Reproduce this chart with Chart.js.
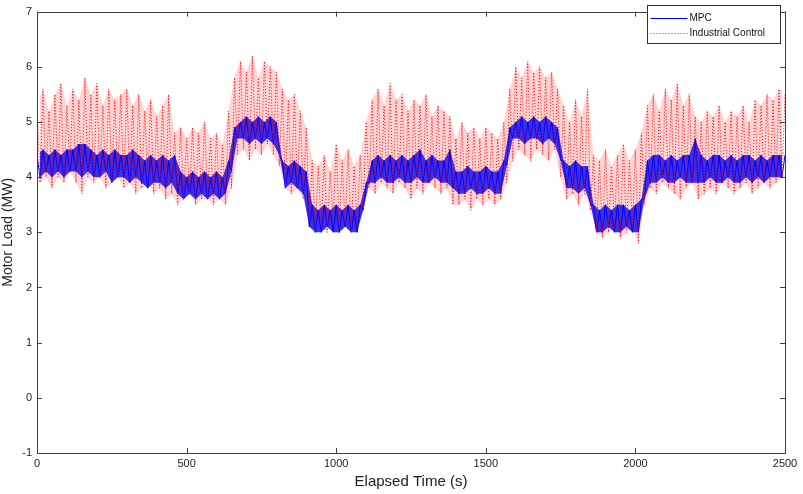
<!DOCTYPE html>
<html>
<head>
<meta charset="utf-8">
<script src="https://cdn.jsdelivr.net/npm/chart.js@4.4.1/dist/chart.umd.min.js"></script>
<style>
  html, body { margin: 0; padding: 0; background: #fff; }
  #wrap { width: 803px; height: 494px; }
</style>
</head>
<body>
<div id="wrap"><canvas id="motorChart" width="803" height="494"></canvas></div>
<script>
// Sample spacing: peaks at every 20 s, troughs half way between
const STEP = 20;

const xTicks = [0, 500, 1000, 1500, 2000, 2500];
const yTicks = [-1, 0, 1, 2, 3, 4, 5, 6, 7];

// Industrial Control (red dotted) - peaks read at t = 0, 20, ... 2500
const redPeaks = [
  5.3, 5.6, 5.2, 5.5, 5.7, 5.3, 5.6, 5.4, 5.8, 5.5, 5.7, 5.3, 5.6, 5.4, 5.5, 5.6, 5.3, 5.5, 5.2, 5.4, 5.1, 5.3, 5.5,
  4.8, 4.9, 4.7, 4.9, 4.8, 5.0, 4.7, 4.8, 4.6, 5.2,
  5.8, 6.1, 5.9, 6.2, 5.8, 6.1, 6.0, 5.9,
  5.6, 5.4, 5.5, 5.2, 4.9,
  4.3, 4.2, 4.4, 4.1, 4.6, 4.3, 4.5, 4.2, 4.4, 5.0,
  5.4, 5.6, 5.3, 5.7, 5.4, 5.5, 5.2, 5.4, 5.3, 5.5, 5.1, 5.3, 5.2, 5.1,
  4.7, 5.0, 4.8, 4.9, 4.7, 4.9, 4.8, 4.7, 5.0,
  5.6, 6.0, 5.8, 6.1, 5.9, 6.0, 5.8, 5.9, 5.6,
  5.3, 5.0, 5.4, 5.1, 5.6,
  4.4, 4.3, 4.5, 4.2, 4.4, 4.6, 4.3, 4.5, 4.8,
  5.3, 5.5, 5.2, 5.6, 5.4, 5.7, 5.3, 5.5, 5.1,
  5.0, 5.2, 5.1, 5.3, 5.0, 5.2, 5.1, 5.3, 5.0, 5.4, 5.3, 5.5, 5.4, 5.6, 5.5
];
// Industrial Control troughs read at t = 10, 30, ... 2490
const redTroughs = [
  3.9, 4.0, 3.8, 4.0, 3.9, 4.1, 3.9, 3.7, 4.0, 3.9, 4.0, 3.8, 3.9, 4.0, 3.8, 3.9, 3.7, 3.8, 3.9, 3.7, 3.8, 3.6, 3.7,
  3.5, 3.6, 3.7, 3.5, 3.6, 3.6, 3.5, 3.6, 3.5, 3.8,
  4.4, 4.5, 4.3, 4.5, 4.4, 4.6, 4.4, 4.2,
  3.8, 3.7, 3.8, 3.6,
  3.2, 3.0, 3.1, 3.0, 3.2, 3.0, 3.1, 3.0, 3.1, 3.4,
  3.8, 3.7, 3.9, 3.8, 3.7, 3.9, 3.8, 3.6, 3.8, 3.7, 3.9, 3.8, 3.7, 3.8, 3.5,
  3.5, 3.6, 3.4, 3.6, 3.5, 3.6, 3.5, 3.6, 3.9,
  4.3, 4.5, 4.4, 4.3, 4.5, 4.4, 4.3, 4.5, 4.0,
  3.6, 3.7, 3.5, 3.7, 3.4,
  3.0, 2.9, 3.0, 3.1, 2.9, 3.0, 3.1, 2.8, 3.5,
  3.8, 3.7, 3.9, 3.8, 3.7, 3.6, 3.8, 3.9, 3.6, 3.7, 3.8, 3.7, 3.9, 3.8, 3.7, 3.8, 3.9, 3.7, 3.8, 3.9, 3.8, 3.9, 4.0
];

// MPC (blue solid) - peaks at t = 0, 20, ... 2500
const mpcPeaks = [
  4.4, 4.5, 4.4, 4.5, 4.4, 4.5, 4.5, 4.6, 4.6, 4.5, 4.4, 4.5, 4.4, 4.5, 4.4, 4.4, 4.5, 4.4, 4.3, 4.4, 4.3, 4.4, 4.3,
  4.4, 4.1, 4.0, 4.1, 4.0, 4.1, 4.0, 4.1, 4.0, 4.3,
  4.9, 5.0, 5.1, 5.0, 5.1, 5.0, 5.1, 5.0,
  4.3, 4.2, 4.3, 4.2, 4.1,
  3.5, 3.4, 3.5, 3.4, 3.5, 3.4, 3.5, 3.4, 3.5, 3.9,
  4.3, 4.4, 4.3, 4.4, 4.3, 4.4, 4.3, 4.4, 4.5, 4.3, 4.4, 4.3, 4.3, 4.5,
  4.1, 4.1, 4.2, 4.1, 4.1, 4.2, 4.1, 4.1, 4.3,
  4.9, 5.0, 5.1, 5.0, 5.1, 5.0, 5.1, 5.0, 4.9,
  4.3, 4.2, 4.3, 4.2, 4.2,
  3.5, 3.4, 3.5, 3.4, 3.5, 3.5, 3.4, 3.5, 3.6,
  4.3, 4.4, 4.4, 4.3, 4.4, 4.3, 4.4, 4.4, 4.7,
  4.4, 4.3, 4.4, 4.4, 4.3, 4.4, 4.3, 4.4, 4.4, 4.3, 4.4, 4.3, 4.4, 4.4, 4.4
];
// MPC troughs at t = 10, 30, ... 2490
const mpcTroughs = [
  4.0, 4.1, 4.0, 4.1, 4.0, 4.1, 4.1, 4.0, 4.1, 4.0, 4.0, 4.1, 3.9, 4.0, 4.0, 3.9, 4.0, 3.9, 3.8, 3.9, 3.9, 3.8, 3.9,
  3.7, 3.6, 3.7, 3.6, 3.7, 3.6, 3.7, 3.6, 3.7, 4.1,
  4.7, 4.7, 4.6, 4.7, 4.6, 4.7, 4.6, 4.4,
  3.8, 3.9, 3.8, 3.7,
  3.1, 3.0, 3.0, 3.1, 3.0, 3.0, 3.1, 3.0, 3.0, 3.4,
  3.9, 3.9, 4.0, 3.9, 3.9, 4.0, 3.9, 3.9, 4.0, 3.9, 3.9, 4.0, 3.9, 3.9, 3.8,
  3.7, 3.7, 3.8, 3.7, 3.7, 3.8, 3.7, 3.7, 4.2,
  4.7, 4.7, 4.6, 4.7, 4.7, 4.6, 4.7, 4.6, 4.3,
  3.8, 3.8, 3.7, 3.8, 3.5,
  3.0, 3.0, 3.1, 3.0, 3.0, 3.1, 3.0, 3.0, 3.6,
  3.9, 3.9, 4.0, 3.9, 3.9, 4.0, 3.9, 3.9, 3.9, 3.9, 4.0, 3.9, 3.9, 4.0, 3.9, 3.9, 4.0, 3.9, 4.0, 3.9, 4.0, 4.0, 4.0
];

const peakPoints = arr => arr.map((v, i) => ({ x: i * STEP, y: v }));
const troughPoints = arr => arr.map((v, i) => ({ x: i * STEP + STEP / 2, y: v }));

// Merge peaks and troughs into one time-ordered list of points
function buildSeries(peaks, troughs) {
  const pts = [];
  peaks.forEach((v, i) => {
    pts.push({ x: i * STEP, y: v });
    if (i < troughs.length) pts.push({ x: i * STEP + STEP / 2, y: troughs[i] });
  });
  return pts;
}

const FONT = "'Liberation Sans', Arial, sans-serif";
const AXIS_COLOR = "#404040";

// Box around the plot with inward ticks, plus MATLAB style legend
const framePlugin = {
  id: "frame",
  afterDraw(chart) {
    const { ctx, chartArea: a, scales } = chart;
    ctx.save();
    ctx.strokeStyle = AXIS_COLOR;
    ctx.lineWidth = 1;
    ctx.strokeRect(Math.round(a.left) + 0.5, Math.round(a.top) + 0.5,
      Math.round(a.right - a.left), Math.round(a.bottom - a.top));

    const tl = 5;
    ctx.beginPath();
    xTicks.forEach(v => {
      const px = Math.round(scales.x.getPixelForValue(v)) + 0.5;
      ctx.moveTo(px, a.bottom); ctx.lineTo(px, a.bottom - tl);
      ctx.moveTo(px, a.top); ctx.lineTo(px, a.top + tl);
    });
    yTicks.forEach(v => {
      const py = Math.round(scales.y.getPixelForValue(v)) + 0.5;
      ctx.moveTo(a.left, py); ctx.lineTo(a.left + tl, py);
      ctx.moveTo(a.right, py); ctx.lineTo(a.right - tl, py);
    });
    ctx.stroke();

    // legend
    const lx = 647.5, ly = 5.5, lw = 133, lh = 38;
    ctx.fillStyle = "#fff";
    ctx.fillRect(lx, ly, lw, lh);
    ctx.strokeStyle = "#303030";
    ctx.strokeRect(lx, ly, lw, lh);
    ctx.font = "10px " + FONT;
    ctx.textBaseline = "middle";
    ctx.fillStyle = "#111";
    chart.data.datasets.filter(ds => ds.label).forEach((ds, i) => {
      const y = Math.round(ly + 12 + i * 15) + 0.5;
      ctx.strokeStyle = ds.borderColor;
      ctx.setLineDash(ds.borderDash || []);
      ctx.beginPath();
      ctx.moveTo(lx + 3, y); ctx.lineTo(lx + 40, y);
      ctx.stroke();
      ctx.setLineDash([]);
      ctx.fillText(ds.label, lx + 42, y);
    });
    ctx.restore();
  }
};

// shaded spread between peaks and troughs (no border, no legend)
const band = (data, extra) => Object.assign({
  data, borderWidth: 0, pointRadius: 0, tension: 0, borderColor: "transparent"
}, extra);

new Chart(document.getElementById("motorChart"), {
  type: "line",
  data: {
    datasets: [
      {
        label: "MPC",
        data: buildSeries(mpcPeaks, mpcTroughs),
        borderColor: "#0000ff",
        borderWidth: 1,
        pointRadius: 0,
        tension: 0,
        order: 2
      },
      {
        label: "Industrial Control",
        data: buildSeries(redPeaks, redTroughs),
        borderColor: "#ff0000",
        borderWidth: 1,
        borderDash: [1, 2],
        pointRadius: 0,
        tension: 0,
        order: 1
      },
      band(peakPoints(mpcPeaks), { order: 3 }),
      band(troughPoints(mpcTroughs), { order: 3, fill: { target: 2 }, backgroundColor: "rgba(20,20,235,0.85)" }),
      band(peakPoints(redPeaks), { order: 4 }),
      band(troughPoints(redTroughs), { order: 4, fill: { target: 4 }, backgroundColor: "rgba(255,60,60,0.22)" })
    ]
  },
  options: {
    responsive: false,
    animation: false,
    devicePixelRatio: 1,
    layout: { padding: { top: 5, right: 18, left: 0, bottom: 0 } },
    plugins: {
      legend: { display: false },
      tooltip: { enabled: false }
    },
    scales: {
      x: {
        type: "linear",
        min: 0,
        max: 2500,
        afterBuildTicks: s => { s.ticks = xTicks.map(v => ({ value: v })); },
        grid: { display: false, drawTicks: false },
        border: { display: false },
        ticks: { color: "#222", font: { family: FONT, size: 11 }, padding: 4, maxRotation: 0, callback: v => String(v) },
        title: { display: true, text: "Elapsed Time (s)", color: "#222", font: { family: FONT, size: 15 }, padding: { top: 3, bottom: 3 } },
        afterFit: s => { s.height = 41; }
      },
      y: {
        min: -1,
        max: 7,
        afterBuildTicks: s => { s.ticks = yTicks.map(v => ({ value: v })); },
        grid: { display: false, drawTicks: false },
        border: { display: false },
        ticks: { color: "#222", font: { family: FONT, size: 11 }, padding: 5 },
        title: { display: true, text: "Motor Load (MW)", color: "#222", font: { family: FONT, size: 14 }, padding: { top: 0, bottom: 3 } },
        afterFit: s => { s.width = 37; }
      }
    }
  },
  plugins: [framePlugin]
});
</script>
</body>
</html>
